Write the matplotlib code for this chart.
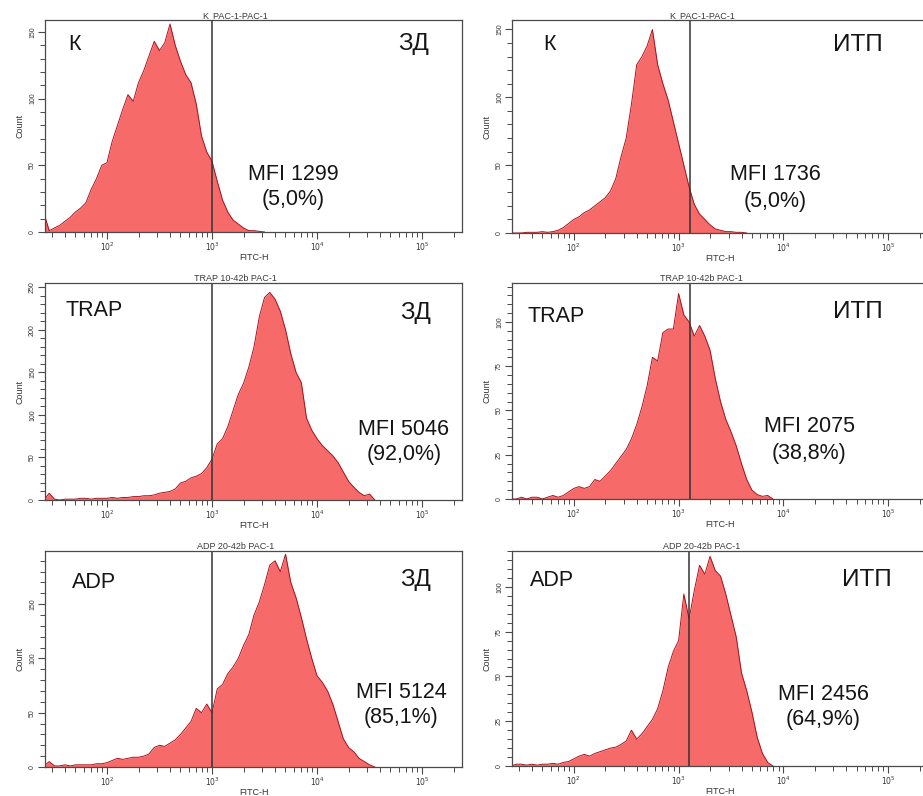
import numpy as np
import matplotlib.pyplot as plt
from matplotlib.ticker import FixedLocator, LogLocator, NullFormatter, MultipleLocator, FuncFormatter

plt.rcParams['font.family'] = ['Liberation Sans', 'DejaVu Sans']

W, H = 923, 796

# histogram channels: log10(FITC-H) starting at 1.40, 0.05 decade per bin
LOG_START = 1.40
BIN_STEP = 0.05

counts_k_zd = [14, 1, 3, 5, 8, 11, 15, 18, 22, 32, 40, 50, 52, 68, 80, 92, 103, 98, 112,
               121, 132, 143, 136, 142, 156, 140, 128, 118, 112, 96, 72, 60, 53, 38, 24,
               15, 9, 6, 3, 1, 1, 0.5, 0]
counts_k_itp = [0, 0, 0, 0.5, 0.5, 0.5, 1, 0.5, 1, 2, 4, 7, 10, 12, 15, 17, 20, 23, 26,
                31, 40, 56, 70, 95, 124, 130, 138, 150, 124, 110, 98, 82, 66, 50, 34, 21,
                14, 10, 6, 3, 2, 1, 1, 0.5, 0.5, 0]
counts_trap_zd = [0, 8, 1, 0, 1, 1, 1, 2, 2, 1, 2, 2, 2, 3, 2, 3, 3, 4, 4, 5, 5, 6, 8, 9,
                  10, 13, 20, 22, 26, 28, 31, 38, 48, 66, 72, 86, 105, 124, 137, 156, 180,
                  215, 238, 244, 236, 222, 200, 172, 150, 138, 96, 82, 72, 64, 58, 52, 44,
                  33, 22, 15, 9, 5, 7, 0]
counts_trap_itp = [0, 0, 1, 0, 1, 1, 0, 1, 2, 1, 2, 4, 6, 7, 6, 7, 11, 10, 13, 16, 20, 24,
                   28, 34, 42, 52, 64, 80, 78, 94, 96, 96, 116, 104, 100, 92, 98, 92, 84,
                   68, 55, 45, 38, 30, 20, 11, 5, 2.5, 1.5, 2, 0]
counts_adp_zd = [1, 5, 1, 1, 2, 1, 2, 2, 2, 2, 3, 3, 4, 6, 8, 7, 8, 9, 9, 10, 12, 18, 20,
                 19, 22, 25, 30, 36, 42, 54, 50, 58, 50, 72, 76, 86, 92, 100, 112, 122, 140,
                 152, 168, 186, 190, 180, 196, 170, 156, 138, 118, 100, 84, 78, 70, 58, 42,
                 26, 18, 14, 8, 5, 2, 0]
counts_adp_itp = [0, 1, 1, 0.5, 1, 0.5, 1, 1, 1.5, 1, 2, 2.5, 4, 5.5, 6.5, 5.5, 7, 8, 9,
                  10, 10.5, 12, 14, 20, 15, 18, 22, 26, 32, 42, 55, 64, 70, 96, 82, 98, 112,
                  107, 117, 109, 106, 96, 84, 72, 52, 42, 30, 16, 7, 2, 0]

series = [counts_k_zd, counts_k_itp, counts_trap_zd, counts_trap_itp, counts_adp_zd, counts_adp_itp]
titles = ['K_PAC-1-PAC-1', 'K_PAC-1-PAC-1', 'TRAP 10-42b PAC-1', 'TRAP 10-42b PAC-1',
          'ADP 20-42b PAC-1', 'ADP 20-42b PAC-1']
stimuli = ['К', 'К', 'TRAP', 'TRAP', 'ADP', 'ADP']
groups = ['ЗД', 'ИТП', 'ЗД', 'ИТП', 'ЗД', 'ИТП']
mfi = [1299, 1736, 5046, 2075, 5124, 2456]
positive = ['5,0', '5,0', '92,0', '38,8', '85,1', '64,9']
gate_log = [3.0, 3.11, 3.0, 3.11, 3.0, 3.10]

# per panel: axes box (left, top, right, bottom) in px, y limit, y major/minor step
boxes = [(45, 20, 462, 232), (512, 20, 928, 233), (45, 283, 462, 500),
         (512, 283, 928, 499), (45, 551, 462, 767), (512, 551, 928, 766)]
ytop = [159, 157, 255, 122, 199, 120]
ymaj = [50, 50, 50, 25, 50, 25]
ymin = [10, 10, 10, 5, 10, 5]
# text anchors in px: stimulus (left, y), group (left, y), MFI block (center x, y1, y2)
tag_pos = [(68, 44), (543, 45), (65, 310), (528, 317), (72, 582), (530, 580)]
grp_pos = [(398, 44), (833, 45), (400, 313), (833, 312), (400, 580), (842, 580)]
mfi_pos = [(293, 174, 200), (775, 175, 202), (404, 430, 455), (809, 427, 453),
           (401, 693, 718), (823, 695, 720)]

FILL = '#f76a6a'
EDGE = '#a8121c'
INK = '#151515'
AXC = '#4a4a4a'

fig = plt.figure(figsize=(W / 100, H / 100), dpi=100)


def fx(px):
    return px / W


def fy(py):
    return 1 - py / H


for i, counts in enumerate(series):
    x0, y0, x1, y1 = boxes[i]
    ax = fig.add_axes([fx(x0), fy(y1), (x1 - x0) / W, (y1 - y0) / H])
    c = np.array(counts, dtype=float)
    x = 10 ** (LOG_START + BIN_STEP * np.arange(len(c)))
    ax.fill_between(x, c, color=FILL, lw=0)
    ax.plot(x, c, color=EDGE, lw=0.7)
    ax.axvline(10 ** gate_log[i], color='#333333', lw=1.1)

    ax.set_xscale('log')
    ax.set_xlim(10 ** 1.41, 10 ** 5.38)
    ax.set_ylim(0, ytop[i])
    ax.xaxis.set_major_locator(FixedLocator([1e2, 1e3, 1e4, 1e5]))
    ax.xaxis.set_major_formatter(FuncFormatter(lambda v, p: r'$10^{%d}$' % round(np.log10(v))))
    ax.xaxis.set_minor_locator(LogLocator(base=10, subs=range(2, 10)))
    ax.xaxis.set_minor_formatter(NullFormatter())
    ax.yaxis.set_major_locator(MultipleLocator(ymaj[i]))
    ax.yaxis.set_minor_locator(MultipleLocator(ymin[i]))

    ax.tick_params(axis='both', which='major', direction='out', length=5, width=0.8,
                   color=AXC, labelcolor='#333333', pad=1)
    ax.tick_params(axis='both', which='minor', direction='out', length=3.5, width=0.7, color=AXC)
    ax.tick_params(axis='x', labelsize=5.5)
    ax.tick_params(axis='y', labelsize=5, labelrotation=90, pad=1.5)
    for lab in ax.get_yticklabels():
        lab.set_va('center')
    for s in ax.spines.values():
        s.set_color(AXC)
        s.set_linewidth(0.9)

    ax.set_xlabel('FITC-H', fontsize=6.5, color='#333333', labelpad=0)
    ax.set_ylabel('Count', fontsize=6.5, color='#333333', labelpad=3)
    ax.set_title(titles[i], fontsize=6.5, color='#3a3a3a', x=0.456, pad=1.5)

    tx, ty = tag_pos[i]
    fig.text(fx(tx), fy(ty), stimuli[i], fontsize=15.5, color=INK, ha='left', va='center')
    gx, gy = grp_pos[i]
    fig.text(fx(gx), fy(gy), groups[i], fontsize=17.5, color=INK, ha='left', va='center')
    mx, my1, my2 = mfi_pos[i]
    fig.text(fx(mx), fy(my1), f'MFI {mfi[i]}', fontsize=15.5, color=INK, ha='center', va='center')
    fig.text(fx(mx), fy(my2), f'({positive[i]}%)', fontsize=15.5, color=INK, ha='center', va='center')

fig.savefig('out.png', dpi=100, facecolor='white')
